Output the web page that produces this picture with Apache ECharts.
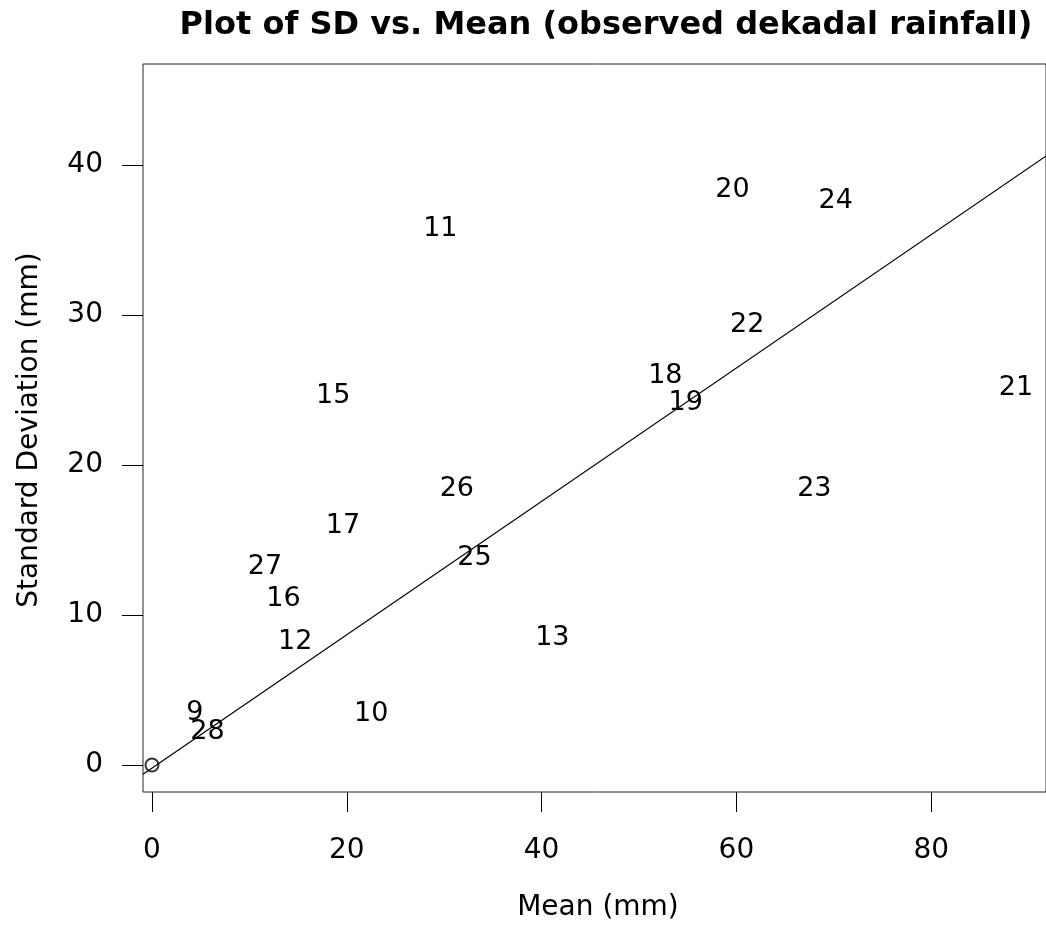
<!DOCTYPE html>
<html>
<head>
<meta charset="utf-8">
<script src="https://cdn.jsdelivr.net/npm/echarts@6/dist/echarts.min.js"></script>
<style>
  html, body { margin: 0; padding: 0; background: #fff; }
  #chart { width: 1046px; height: 928px; }
</style>
</head>
<body>
<div id="chart"></div>
<script>
// dekad number, mean and SD of observed dekadal rainfall
const dekads = [9, 10, 11, 12, 13, 15, 16, 17, 18, 19, 20, 21, 22, 23, 24, 25, 26, 27, 28]
const means = [4.4, 22.5, 29.6, 14.7, 41.1, 18.6, 13.5, 19.6, 52.7, 54.8, 59.6, 88.7, 61.1, 68.0, 70.2, 33.1, 31.3, 11.6, 5.7]
const sds = [3.5, 3.4, 35.7, 8.2, 8.5, 24.6, 11.1, 15.9, 25.9, 24.1, 38.3, 25.1, 29.3, 18.4, 37.6, 13.8, 18.4, 13.2, 2.2]

// dekads with no rain sit at the origin
const zeroMean = [0]
const zeroSd = [0]

// fitted line end points
const fitX = [-0.92, 91.8]
const fitY = [-0.61, 40.6]

const xTicks = [0, 20, 40, 60, 80]
const yTicks = [0, 10, 20, 30, 40]

const font = '"DejaVu Sans", Verdana, sans-serif'

const points = dekads.map((d, i) => [means[i], sds[i], String(d)])
const zeros = zeroMean.map((m, i) => [m, zeroSd[i]])
const fit = fitX.map((x, i) => [x, fitY[i]])

const chart = echarts.init(document.getElementById('chart'))
chart.setOption({
  animation: false,
  title: {
    text: 'Plot of SD vs. Mean (observed dekadal rainfall)',
    left: 601,
    top: 5,
    textAlign: 'center',
    textStyle: { fontFamily: font, fontSize: 32, fontWeight: 'bold', color: '#000' },
  },
  grid: {
    left: 143, top: 64, right: -2, bottom: 136,
    show: true, borderColor: '#222', borderWidth: 1, backgroundColor: '#fff',
  },
  xAxis: {
    type: 'value',
    min: -0.922, max: 91.78,
    splitLine: { show: false },
    axisLine: { show: false, onZero: false },
    axisTick: { show: true, length: 20, inside: false, customValues: xTicks, lineStyle: { color: '#000' } },
    axisLabel: { customValues: xTicks, margin: 45, fontSize: 28, fontFamily: font, color: '#000' },
  },
  yAxis: {
    type: 'value',
    min: -1.8, max: 46.73,
    splitLine: { show: false },
    axisLine: { show: false, onZero: false },
    axisTick: { show: true, length: 21, inside: false, customValues: yTicks, lineStyle: { color: '#000' } },
    axisLabel: { customValues: yTicks, margin: 40, fontSize: 28, fontFamily: font, color: '#000' },
  },
  graphic: [
    {
      type: 'text', x: 598, y: 908,
      style: { text: 'Mean (mm)', font: '28px ' + font, fill: '#000', align: 'center', verticalAlign: 'middle' },
    },
    {
      type: 'text', x: 30, y: 430, rotation: Math.PI / 2,
      style: { text: 'Standard Deviation (mm)', font: '28px ' + font, fill: '#000', align: 'center', verticalAlign: 'middle' },
    },
  ],
  series: [
    {
      type: 'line',
      data: fit,
      showSymbol: false,
      lineStyle: { color: '#000', width: 1.2 },
      silent: true,
    },
    {
      type: 'scatter',
      data: zeros,
      symbol: 'emptyCircle',
      symbolSize: 13,
      itemStyle: { color: '#000', borderColor: '#000', borderWidth: 1 },
    },
    {
      type: 'scatter',
      data: points,
      symbolSize: 1,
      itemStyle: { color: 'transparent' },
      label: {
        show: true,
        position: 'inside',
        formatter: p => p.value[2],
        fontSize: 27,
        fontFamily: font,
        color: '#000',
        opacity: 1,
        textBorderWidth: 0,
      },
    },
  ],
})
</script>
</body>
</html>
